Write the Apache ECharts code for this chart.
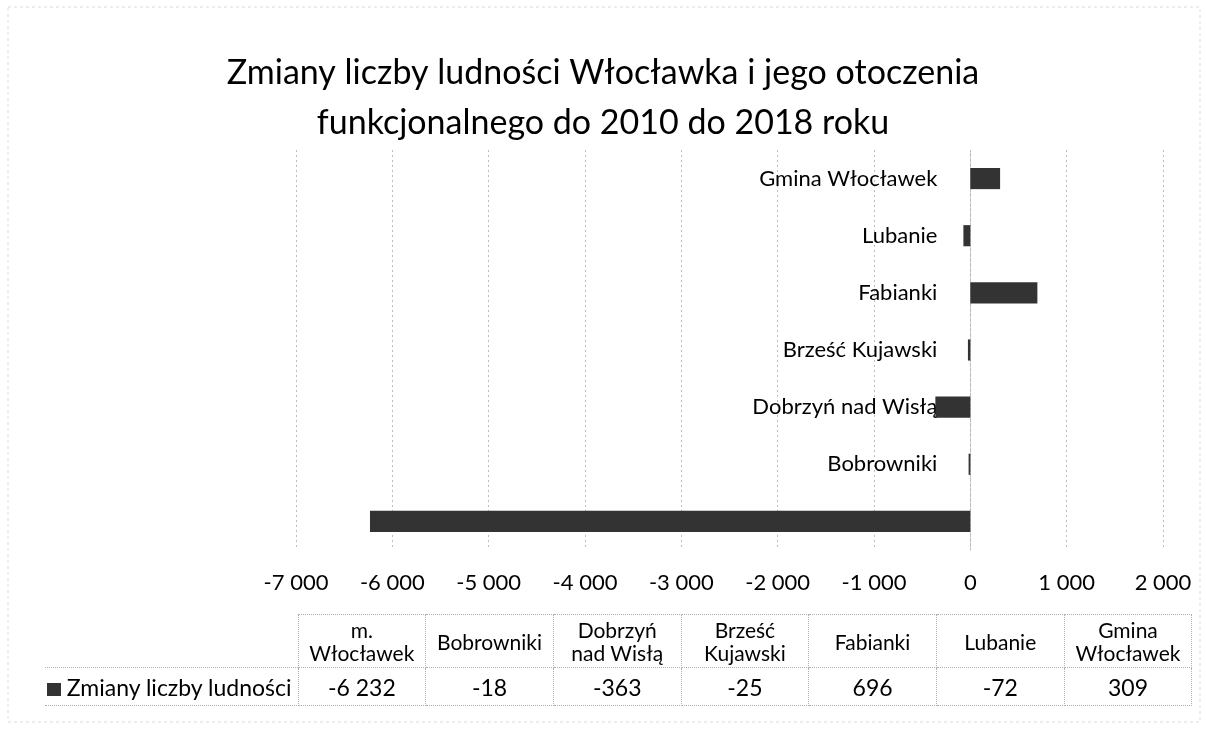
<!DOCTYPE html>
<html>
<head>
<meta charset="utf-8">
<script src="https://cdn.jsdelivr.net/npm/echarts@6/dist/echarts.min.js"></script>
<style>
  body { margin: 0; background: #fff; }
  #main { width: 1206px; height: 742px; }
  #tab {
    position: absolute; left: 45px; top: 614px;
    border-collapse: collapse; table-layout: fixed;
    font-family: Lato, 'Noto Sans', sans-serif; color: #000;
  }
  #tab td { text-align: center; padding: 0; border: 1px dotted #b0b0b0; }
  #tab tr.head td { height: 52px; font-size: 21px; line-height: 23px; }
  #tab tr.vals td { height: 37px; font-size: 23px; }
  #tab td.blank { border: none; }
  #tab td.key { text-align: right; padding-right: 6px; border-left: none; white-space: nowrap; font-size: 22px; }
  #tab .sq { display: inline-block; width: 14px; height: 13px; background: #333; margin-right: 6px; }
</style>
</head>
<body>
<div id="main"></div>
<table id="tab"></table>
<script>
// kategorie (od dołu do góry na wykresie)
const categories = ['m. Włocławek', 'Bobrowniki', 'Dobrzyń nad Wisłą', 'Brześć Kujawski', 'Fabianki', 'Lubanie', 'Gmina Włocławek']
// nagłówki tabeli danych (z łamaniem wierszy)
const tableHeads = ['m.<br>Włocławek', 'Bobrowniki', 'Dobrzyń<br>nad Wisłą', 'Brześć<br>Kujawski', 'Fabianki', 'Lubanie', 'Gmina<br>Włocławek']
const seriesName = 'Zmiany liczby ludności'
const values = [-6232, -18, -363, -25, 696, -72, 309]
const xMin = -7000
const xMax = 2000
const xStep = 1000

function fmt(v) {
  const s = String(Math.abs(v)).replace(/\B(?=(\d{3})+(?!\d))/g, ' ')
  return (v < 0 ? '-' : '') + s
}

const chartW = 1206
const gridLeft = 296
const gridRight = 43
// oś kategorii przesunięta na wartość 0 osi X
const zeroShift = (chartW - gridLeft - gridRight) * (0 - xMin) / (xMax - xMin)

const myChart = echarts.init(document.getElementById('main'))
const option = {
  backgroundColor: '#fff',
  title: {
    text: 'Zmiany liczby ludności Włocławka i jego otoczenia\nfunkcjonalnego do 2010 do 2018 roku',
    left: 'center',
    top: 43,
    textStyle: {
      fontFamily: 'Lato',
      fontSize: 34,
      fontWeight: 'normal',
      lineHeight: 50,
      color: '#000',
    },
  },
  graphic: [
    {
      type: 'rect',
      shape: { x: 8, y: 7, width: 1192, height: 715 },
      style: { fill: 'none', stroke: '#dcdcdc', lineDash: [3, 3] },
      silent: true,
    },
  ],
  grid: {
    left: gridLeft,
    right: gridRight,
    top: 150,
    bottom: 192,
  },
  xAxis: {
    type: 'value',
    min: xMin,
    max: xMax,
    interval: xStep,
    axisLine: { show: false },
    axisTick: { show: false },
    axisLabel: {
      margin: 22,
      fontFamily: 'Lato',
      fontSize: 22,
      color: '#000',
      formatter: fmt,
    },
    splitLine: {
      show: true,
      lineStyle: { color: '#bdbdbd', type: [2, 3], width: 1 },
    },
  },
  yAxis: {
    type: 'category',
    data: categories,
    offset: -zeroShift,
    axisLine: { show: true, onZero: false, lineStyle: { color: '#bdbdbd', type: [2, 3] } },
    axisTick: { show: false },
    axisLabel: {
      margin: 33,
      fontFamily: 'Lato',
      fontSize: 22,
      color: '#000',
    },
  },
  series: [
    {
      name: seriesName,
      type: 'bar',
      data: values,
      barWidth: '37%',
      itemStyle: { color: '#333' },
      silent: true,
    },
  ],
}
myChart.setOption(option, true)

// tabela danych pod wykresem
const tab = document.getElementById('tab')
let html = '<colgroup><col style="width:253px">'
categories.forEach(() => { html += '<col style="width:127.7px">' })
html += '</colgroup>'
html += '<tr class="head"><td class="blank"></td>' + tableHeads.map(h => '<td>' + h + '</td>').join('') + '</tr>'
html += '<tr class="vals"><td class="key"><span class="sq"></span>' + seriesName + '</td>' +
  values.map(v => '<td>' + fmt(v) + '</td>').join('') + '</tr>'
tab.innerHTML = html
</script>
</body>
</html>
